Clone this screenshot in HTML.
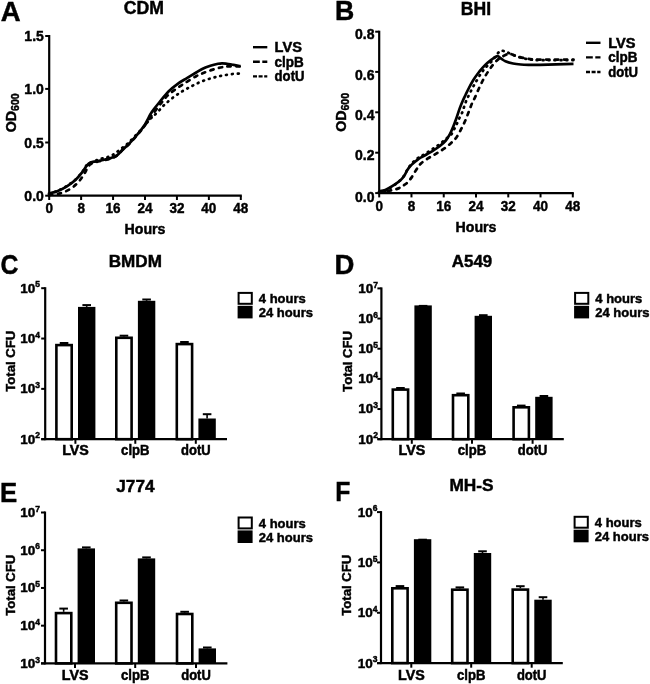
<!DOCTYPE html>
<html><head><meta charset="utf-8"><style>
html,body{margin:0;padding:0;background:#fff;}
svg{display:block;}
text{font-family:"Liberation Sans", sans-serif;font-weight:bold;fill:#000;stroke:#000;stroke-width:0.45px;}
svg{filter:blur(0.35px);}
</style></head><body>
<svg width="650" height="684" viewBox="0 0 650 684">
<rect width="650" height="684" fill="#fff"/>
<text x="0.70" y="20.60" font-size="27.5" text-anchor="start">A</text>
<text x="334.90" y="19.70" font-size="27.5" text-anchor="start" textLength="19.3" lengthAdjust="spacingAndGlyphs">B</text>
<text x="0.60" y="274.20" font-size="27.5" text-anchor="start" textLength="17.9" lengthAdjust="spacingAndGlyphs">C</text>
<text x="334.60" y="274.40" font-size="27.5" text-anchor="start">D</text>
<text x="-0.10" y="502.00" font-size="27.5" text-anchor="start" textLength="17.2" lengthAdjust="spacingAndGlyphs">E</text>
<text x="335.30" y="501.40" font-size="27.5" text-anchor="start" textLength="15.1" lengthAdjust="spacingAndGlyphs">F</text>
<line x1="49.20" y1="35.00" x2="49.20" y2="196.70" stroke="#000" stroke-width="2.2"/>
<line x1="48.20" y1="195.70" x2="241.80" y2="195.70" stroke="#000" stroke-width="2.3"/>
<line x1="45.20" y1="36.00" x2="49.20" y2="36.00" stroke="#000" stroke-width="2"/>
<text transform="translate(43.80,41.10) scale(1,1.07)" font-size="14" text-anchor="end">1.5</text>
<line x1="45.20" y1="88.90" x2="49.20" y2="88.90" stroke="#000" stroke-width="2"/>
<text transform="translate(43.80,94.00) scale(1,1.07)" font-size="14" text-anchor="end">1.0</text>
<line x1="45.20" y1="142.50" x2="49.20" y2="142.50" stroke="#000" stroke-width="2"/>
<text transform="translate(43.80,147.60) scale(1,1.07)" font-size="14" text-anchor="end">0.5</text>
<line x1="45.20" y1="195.70" x2="49.20" y2="195.70" stroke="#000" stroke-width="2"/>
<text transform="translate(43.80,200.80) scale(1,1.07)" font-size="14" text-anchor="end">0.0</text>
<line x1="49.20" y1="195.70" x2="49.20" y2="200.00" stroke="#000" stroke-width="2"/>
<text x="49.20" y="213.30" font-size="14.8" text-anchor="middle" textLength="7.51" lengthAdjust="spacingAndGlyphs">0</text>
<line x1="81.13" y1="195.70" x2="81.13" y2="200.00" stroke="#000" stroke-width="2"/>
<text x="81.13" y="213.30" font-size="14.8" text-anchor="middle" textLength="7.51" lengthAdjust="spacingAndGlyphs">8</text>
<line x1="113.07" y1="195.70" x2="113.07" y2="200.00" stroke="#000" stroke-width="2"/>
<text x="113.07" y="213.30" font-size="14.8" text-anchor="middle" textLength="15.01" lengthAdjust="spacingAndGlyphs">16</text>
<line x1="145.00" y1="195.70" x2="145.00" y2="200.00" stroke="#000" stroke-width="2"/>
<text x="145.00" y="213.30" font-size="14.8" text-anchor="middle" textLength="15.01" lengthAdjust="spacingAndGlyphs">24</text>
<line x1="176.93" y1="195.70" x2="176.93" y2="200.00" stroke="#000" stroke-width="2"/>
<text x="176.93" y="213.30" font-size="14.8" text-anchor="middle" textLength="15.01" lengthAdjust="spacingAndGlyphs">32</text>
<line x1="208.87" y1="195.70" x2="208.87" y2="200.00" stroke="#000" stroke-width="2"/>
<text x="208.87" y="213.30" font-size="14.8" text-anchor="middle" textLength="15.01" lengthAdjust="spacingAndGlyphs">40</text>
<line x1="240.80" y1="195.70" x2="240.80" y2="200.00" stroke="#000" stroke-width="2"/>
<text x="240.80" y="213.30" font-size="14.8" text-anchor="middle" textLength="15.01" lengthAdjust="spacingAndGlyphs">48</text>
<text x="143.90" y="14.30" font-size="17.8" text-anchor="middle" textLength="40.2" lengthAdjust="spacingAndGlyphs">CDM</text>
<text x="145.00" y="233.80" font-size="14.2" text-anchor="middle">Hours</text>
<text transform="translate(16.20,132.20) rotate(-90)" font-size="14.2">OD<tspan font-size="10.5" dy="3.2">600</tspan></text>
<line x1="253.00" y1="47.20" x2="267.30" y2="47.20" stroke="#000" stroke-width="2.4"/>
<text transform="translate(274.60,51.90) scale(1,1.06)" font-size="13.5" text-anchor="start" textLength="27.3" lengthAdjust="spacingAndGlyphs">LVS</text>
<line x1="253" y1="61.80" x2="267.3" y2="61.80" stroke="#000" stroke-width="2.4" stroke-dasharray="6.8 2.5"/>
<text transform="translate(274.60,66.50) scale(1,1.06)" font-size="13.5" text-anchor="start" textLength="29.2" lengthAdjust="spacingAndGlyphs">clpB</text>
<line x1="253" y1="76.40" x2="267.3" y2="76.40" stroke="#000" stroke-width="2.4" stroke-dasharray="4 1.6"/>
<text transform="translate(274.60,81.10) scale(1,1.06)" font-size="13.5" text-anchor="start" textLength="29.9" lengthAdjust="spacingAndGlyphs">dotU</text>
<path d="M49.00,193.30 C50.37,192.95 54.28,192.32 57.20,191.20 C60.12,190.08 63.42,188.52 66.50,186.60 C69.58,184.68 73.08,182.08 75.70,179.70 C78.32,177.32 80.40,174.58 82.20,172.30 C84.00,170.02 85.37,167.50 86.50,166.00 C87.63,164.50 88.08,163.97 89.00,163.30 C89.92,162.63 90.83,162.33 92.00,162.00 C93.17,161.67 94.17,161.63 96.00,161.30 C97.83,160.97 100.53,160.53 103.00,160.00 C105.47,159.47 108.47,158.88 110.80,158.10 C113.13,157.32 115.05,156.68 117.00,155.30 C118.95,153.92 120.55,151.67 122.50,149.80 C124.45,147.93 126.38,146.47 128.70,144.10 C131.02,141.73 133.83,138.65 136.40,135.60 C138.97,132.55 141.68,129.48 144.10,125.80 C146.52,122.12 149.08,116.50 150.90,113.50 C152.72,110.50 153.62,109.63 155.00,107.80 C156.38,105.97 156.95,105.22 159.20,102.50 C161.45,99.78 165.42,94.62 168.50,91.50 C171.58,88.38 174.63,86.03 177.70,83.80 C180.77,81.57 183.82,79.98 186.90,78.10 C189.98,76.22 193.57,74.07 196.20,72.50 C198.83,70.93 200.33,69.82 202.70,68.70 C205.07,67.58 207.83,66.62 210.40,65.80 C212.97,64.98 216.18,64.22 218.10,63.80 C220.02,63.38 220.62,63.33 221.90,63.30 C223.18,63.27 223.87,63.33 225.80,63.60 C227.73,63.87 231.07,64.47 233.50,64.90 C235.93,65.33 239.25,65.98 240.40,66.20" fill="none" stroke="#000" stroke-width="2.7" stroke-linecap="butt" stroke-linejoin="round"/>
<path d="M49.00,194.50 C50.83,194.32 56.47,194.32 60.00,193.40 C63.53,192.48 67.28,190.73 70.20,189.00 C73.12,187.27 75.35,185.20 77.50,183.00 C79.65,180.80 81.55,178.08 83.10,175.80 C84.65,173.52 85.65,171.18 86.80,169.30 C87.95,167.42 88.63,165.67 90.00,164.50 C91.37,163.33 92.83,162.97 95.00,162.30 C97.17,161.63 100.37,161.13 103.00,160.50 C105.63,159.87 108.47,159.33 110.80,158.50 C113.13,157.67 115.05,156.92 117.00,155.50 C118.95,154.08 120.55,151.83 122.50,150.00 C124.45,148.17 126.38,146.83 128.70,144.50 C131.02,142.17 133.83,139.00 136.40,136.00 C138.97,133.00 141.53,129.92 144.10,126.50 C146.67,123.08 148.82,119.57 151.80,115.50 C154.78,111.43 159.22,105.57 162.00,102.10 C164.78,98.63 165.88,97.08 168.50,94.70 C171.12,92.32 174.63,89.95 177.70,87.80 C180.77,85.65 183.82,83.73 186.90,81.80 C189.98,79.87 193.57,77.62 196.20,76.20 C198.83,74.78 200.33,74.27 202.70,73.30 C205.07,72.33 207.83,71.27 210.40,70.40 C212.97,69.53 215.80,68.68 218.10,68.10 C220.40,67.52 222.28,67.20 224.20,66.90 C226.12,66.60 226.90,66.37 229.60,66.30 C232.30,66.23 238.60,66.47 240.40,66.50" fill="none" stroke="#000" stroke-width="2.7" stroke-dasharray="3.3 5.5" stroke-linecap="round" stroke-linejoin="round"/>
<path d="M49.00,193.50 C50.37,193.08 54.28,192.22 57.20,191.00 C60.12,189.78 63.42,188.15 66.50,186.20 C69.58,184.25 73.08,181.67 75.70,179.30 C78.32,176.93 80.35,174.38 82.20,172.00 C84.05,169.62 85.27,166.62 86.80,165.00 C88.33,163.38 89.20,163.30 91.40,162.30 C93.60,161.30 97.42,159.83 100.00,159.00 C102.58,158.17 104.85,157.93 106.90,157.30 C108.95,156.67 110.75,156.00 112.30,155.20 C113.85,154.40 114.78,153.53 116.20,152.50 C117.62,151.47 119.27,150.17 120.80,149.00 C122.33,147.83 123.87,146.78 125.40,145.50 C126.93,144.22 128.07,143.22 130.00,141.30 C131.93,139.38 134.65,136.47 137.00,134.00 C139.35,131.53 142.07,128.83 144.10,126.50 C146.13,124.17 147.70,121.70 149.20,120.00 C150.70,118.30 151.68,117.63 153.10,116.30 C154.52,114.97 155.90,113.83 157.70,112.00 C159.50,110.17 161.33,107.72 163.90,105.30 C166.47,102.88 170.03,99.83 173.10,97.50 C176.17,95.17 179.22,93.18 182.30,91.30 C185.38,89.42 188.52,87.78 191.60,86.20 C194.68,84.62 197.67,83.08 200.80,81.80 C203.93,80.52 207.52,79.38 210.40,78.50 C213.28,77.62 215.53,77.08 218.10,76.50 C220.67,75.92 223.23,75.43 225.80,75.00 C228.37,74.57 231.22,74.13 233.50,73.90 C235.78,73.67 238.50,73.65 239.50,73.60" fill="none" stroke="#000" stroke-width="2.7" stroke-dasharray="0.9 5.0" stroke-linecap="round" stroke-linejoin="round"/>
<line x1="379.20" y1="30.70" x2="379.20" y2="194.10" stroke="#000" stroke-width="2.2"/>
<line x1="378.20" y1="193.10" x2="573.80" y2="193.10" stroke="#000" stroke-width="2.3"/>
<line x1="375.20" y1="31.70" x2="379.20" y2="31.70" stroke="#000" stroke-width="2"/>
<text transform="translate(374.50,39.40) scale(1,1.07)" font-size="14" text-anchor="end">0.8</text>
<line x1="375.20" y1="71.90" x2="379.20" y2="71.90" stroke="#000" stroke-width="2"/>
<text transform="translate(374.50,80.40) scale(1,1.07)" font-size="14" text-anchor="end">0.6</text>
<line x1="375.20" y1="112.30" x2="379.20" y2="112.30" stroke="#000" stroke-width="2"/>
<text transform="translate(374.50,120.00) scale(1,1.07)" font-size="14" text-anchor="end">0.4</text>
<line x1="375.20" y1="152.70" x2="379.20" y2="152.70" stroke="#000" stroke-width="2"/>
<text transform="translate(374.50,160.40) scale(1,1.07)" font-size="14" text-anchor="end">0.2</text>
<line x1="375.20" y1="193.10" x2="379.20" y2="193.10" stroke="#000" stroke-width="2"/>
<text transform="translate(374.50,202.00) scale(1,1.07)" font-size="14" text-anchor="end">0.0</text>
<line x1="379.20" y1="193.10" x2="379.20" y2="197.40" stroke="#000" stroke-width="2"/>
<text x="379.20" y="211.20" font-size="14.8" text-anchor="middle" textLength="7.51" lengthAdjust="spacingAndGlyphs">0</text>
<line x1="411.47" y1="193.10" x2="411.47" y2="197.40" stroke="#000" stroke-width="2"/>
<text x="411.47" y="211.20" font-size="14.8" text-anchor="middle" textLength="7.51" lengthAdjust="spacingAndGlyphs">8</text>
<line x1="443.73" y1="193.10" x2="443.73" y2="197.40" stroke="#000" stroke-width="2"/>
<text x="443.73" y="211.20" font-size="14.8" text-anchor="middle" textLength="15.01" lengthAdjust="spacingAndGlyphs">16</text>
<line x1="476.00" y1="193.10" x2="476.00" y2="197.40" stroke="#000" stroke-width="2"/>
<text x="476.00" y="211.20" font-size="14.8" text-anchor="middle" textLength="15.01" lengthAdjust="spacingAndGlyphs">24</text>
<line x1="508.27" y1="193.10" x2="508.27" y2="197.40" stroke="#000" stroke-width="2"/>
<text x="508.27" y="211.20" font-size="14.8" text-anchor="middle" textLength="15.01" lengthAdjust="spacingAndGlyphs">32</text>
<line x1="540.53" y1="193.10" x2="540.53" y2="197.40" stroke="#000" stroke-width="2"/>
<text x="540.53" y="211.20" font-size="14.8" text-anchor="middle" textLength="15.01" lengthAdjust="spacingAndGlyphs">40</text>
<line x1="572.80" y1="193.10" x2="572.80" y2="197.40" stroke="#000" stroke-width="2"/>
<text x="572.80" y="211.20" font-size="14.8" text-anchor="middle" textLength="15.01" lengthAdjust="spacingAndGlyphs">48</text>
<text x="476.00" y="14.60" font-size="17.8" text-anchor="middle" textLength="30.3" lengthAdjust="spacingAndGlyphs">BHI</text>
<text x="476.00" y="231.60" font-size="14.2" text-anchor="middle">Hours</text>
<text transform="translate(345.90,131.80) rotate(-90)" font-size="14.2">OD<tspan font-size="10.5" dy="3.2">600</tspan></text>
<line x1="586.00" y1="42.80" x2="600.50" y2="42.80" stroke="#000" stroke-width="2.4"/>
<text transform="translate(608.20,47.50) scale(1,1.06)" font-size="13.5" text-anchor="start" textLength="27.3" lengthAdjust="spacingAndGlyphs">LVS</text>
<line x1="586" y1="57.40" x2="600.5" y2="57.40" stroke="#000" stroke-width="2.4" stroke-dasharray="6.8 2.5"/>
<text transform="translate(608.20,62.10) scale(1,1.06)" font-size="13.5" text-anchor="start" textLength="29.2" lengthAdjust="spacingAndGlyphs">clpB</text>
<line x1="586" y1="72.00" x2="600.5" y2="72.00" stroke="#000" stroke-width="2.4" stroke-dasharray="4 1.6"/>
<text transform="translate(608.20,76.70) scale(1,1.06)" font-size="13.5" text-anchor="start" textLength="29.9" lengthAdjust="spacingAndGlyphs">dotU</text>
<path d="M379.00,191.30 C380.05,191.07 383.03,190.80 385.30,189.90 C387.57,189.00 390.17,187.42 392.60,185.90 C395.03,184.38 397.95,182.50 399.90,180.80 C401.85,179.10 403.08,177.47 404.30,175.70 C405.52,173.93 406.23,171.77 407.20,170.20 C408.17,168.63 408.88,167.62 410.10,166.30 C411.32,164.98 413.03,163.58 414.50,162.30 C415.97,161.02 417.78,159.42 418.90,158.60 C420.02,157.78 419.80,158.17 421.20,157.40 C422.60,156.63 425.25,155.17 427.30,154.00 C429.35,152.83 431.45,151.70 433.50,150.40 C435.55,149.10 437.55,147.85 439.60,146.20 C441.65,144.55 444.08,142.50 445.80,140.50 C447.52,138.50 448.67,136.48 449.90,134.20 C451.13,131.92 452.12,129.47 453.20,126.80 C454.28,124.13 455.32,121.27 456.40,118.20 C457.48,115.13 458.60,111.38 459.70,108.40 C460.80,105.42 462.03,102.53 463.00,100.30 C463.97,98.07 464.52,97.05 465.50,95.00 C466.48,92.95 467.57,90.55 468.90,88.00 C470.23,85.45 471.97,82.17 473.50,79.70 C475.03,77.23 476.57,75.20 478.10,73.20 C479.63,71.20 481.17,69.38 482.70,67.70 C484.23,66.02 485.77,64.48 487.30,63.10 C488.83,61.72 490.53,60.43 491.90,59.40 C493.27,58.37 494.48,57.42 495.50,56.90 C496.52,56.38 497.00,55.98 498.00,56.30 C499.00,56.62 500.27,57.98 501.50,58.80 C502.73,59.62 503.47,60.42 505.40,61.20 C507.33,61.98 510.53,62.95 513.10,63.50 C515.67,64.05 518.23,64.28 520.80,64.50 C523.37,64.72 525.30,64.75 528.50,64.80 C531.70,64.85 532.50,64.97 540.00,64.80 C547.50,64.63 567.92,63.97 573.50,63.80" fill="none" stroke="#000" stroke-width="2.7" stroke-linecap="butt" stroke-linejoin="round"/>
<path d="M379.00,192.50 C380.42,192.25 384.87,191.48 387.50,191.00 C390.13,190.52 392.73,190.15 394.80,189.60 C396.87,189.05 398.45,188.38 399.90,187.70 C401.35,187.02 402.28,186.32 403.50,185.50 C404.72,184.68 405.97,183.98 407.20,182.80 C408.43,181.62 409.68,180.10 410.90,178.40 C412.12,176.70 413.28,174.52 414.50,172.60 C415.72,170.68 417.03,168.50 418.20,166.90 C419.37,165.30 419.95,164.37 421.50,163.00 C423.05,161.63 425.50,160.00 427.50,158.70 C429.50,157.40 431.48,156.40 433.50,155.20 C435.52,154.00 437.55,152.78 439.60,151.50 C441.65,150.22 443.75,149.05 445.80,147.50 C447.85,145.95 450.13,143.87 451.90,142.20 C453.67,140.53 454.87,139.67 456.40,137.50 C457.93,135.33 459.67,131.90 461.10,129.20 C462.53,126.50 463.70,124.27 465.00,121.30 C466.30,118.33 467.70,114.47 468.90,111.40 C470.10,108.33 471.20,105.20 472.20,102.90 C473.20,100.60 473.77,100.03 474.90,97.60 C476.03,95.17 477.55,91.40 479.00,88.30 C480.45,85.20 482.07,81.82 483.60,79.00 C485.13,76.18 486.65,73.75 488.20,71.40 C489.75,69.05 491.45,66.72 492.90,64.90 C494.35,63.08 495.72,61.65 496.90,60.50 C498.08,59.35 498.85,58.78 500.00,58.00 C501.15,57.22 502.63,56.42 503.80,55.80 C504.97,55.18 505.97,54.63 507.00,54.30 C508.03,53.97 508.35,53.48 510.00,53.80 C511.65,54.12 514.47,55.47 516.90,56.20 C519.33,56.93 522.03,57.68 524.60,58.20 C527.17,58.72 529.73,59.07 532.30,59.30 C534.87,59.53 533.13,59.55 540.00,59.60 C546.87,59.65 567.92,59.60 573.50,59.60" fill="none" stroke="#000" stroke-width="2.7" stroke-dasharray="3.3 5.5" stroke-linecap="round" stroke-linejoin="round"/>
<path d="M379.00,192.00 C380.17,191.75 383.60,191.53 386.00,190.50 C388.40,189.47 391.07,187.47 393.40,185.80 C395.73,184.13 398.18,182.25 400.00,180.50 C401.82,178.75 403.05,177.13 404.30,175.30 C405.55,173.47 406.47,171.22 407.50,169.50 C408.53,167.78 409.42,166.37 410.50,165.00 C411.58,163.63 412.75,162.47 414.00,161.30 C415.25,160.13 416.80,158.85 418.00,158.00 C419.20,157.15 419.65,157.13 421.20,156.20 C422.75,155.27 425.25,153.70 427.30,152.40 C429.35,151.10 431.45,149.77 433.50,148.40 C435.55,147.03 437.55,145.77 439.60,144.20 C441.65,142.63 443.87,140.62 445.80,139.00 C447.73,137.38 449.75,136.23 451.20,134.50 C452.65,132.77 453.52,130.47 454.50,128.60 C455.48,126.73 456.23,125.17 457.10,123.30 C457.97,121.43 458.82,119.27 459.70,117.40 C460.58,115.53 461.70,113.75 462.40,112.10 C463.10,110.45 463.35,109.15 463.90,107.50 C464.45,105.85 465.02,103.95 465.70,102.20 C466.38,100.45 466.87,99.37 468.00,97.00 C469.13,94.63 470.97,90.88 472.50,88.00 C474.03,85.12 475.65,82.32 477.20,79.70 C478.75,77.08 480.27,74.45 481.80,72.30 C483.33,70.15 484.72,68.68 486.40,66.80 C488.08,64.92 490.20,62.97 491.90,61.00 C493.60,59.03 495.45,56.47 496.60,55.00 C497.75,53.53 498.03,52.93 498.80,52.20 C499.57,51.47 500.10,50.70 501.20,50.60 C502.30,50.50 503.93,51.12 505.40,51.60 C506.87,52.08 508.08,52.70 510.00,53.50 C511.92,54.30 514.47,55.55 516.90,56.40 C519.33,57.25 522.03,58.03 524.60,58.60 C527.17,59.17 529.73,59.53 532.30,59.80 C534.87,60.07 533.13,60.13 540.00,60.20 C546.87,60.27 567.92,60.20 573.50,60.20" fill="none" stroke="#000" stroke-width="2.7" stroke-dasharray="0.9 5.0" stroke-linecap="round" stroke-linejoin="round"/>
<line x1="64.05" y1="343.80" x2="64.05" y2="343.00" stroke="#000" stroke-width="1.6"/>
<line x1="59.75" y1="343.00" x2="68.35" y2="343.00" stroke="#000" stroke-width="2"/>
<line x1="86.70" y1="306.90" x2="86.70" y2="305.10" stroke="#000" stroke-width="1.6"/>
<line x1="82.40" y1="305.10" x2="91.00" y2="305.10" stroke="#000" stroke-width="2"/>
<rect x="56.40" y="345.10" width="15.30" height="94.10" fill="#fff" stroke="#000" stroke-width="2.6"/>
<rect x="78.00" y="306.90" width="17.40" height="132.30" fill="#000"/>
<line x1="75.40" y1="439.20" x2="75.40" y2="443.80" stroke="#000" stroke-width="2"/>
<line x1="123.95" y1="336.50" x2="123.95" y2="335.70" stroke="#000" stroke-width="1.6"/>
<line x1="119.65" y1="335.70" x2="128.25" y2="335.70" stroke="#000" stroke-width="2"/>
<line x1="146.60" y1="300.80" x2="146.60" y2="299.50" stroke="#000" stroke-width="1.6"/>
<line x1="142.30" y1="299.50" x2="150.90" y2="299.50" stroke="#000" stroke-width="2"/>
<rect x="116.30" y="337.80" width="15.30" height="101.40" fill="#fff" stroke="#000" stroke-width="2.6"/>
<rect x="137.90" y="300.80" width="17.40" height="138.40" fill="#000"/>
<line x1="135.30" y1="439.20" x2="135.30" y2="443.80" stroke="#000" stroke-width="2"/>
<line x1="184.45" y1="342.80" x2="184.45" y2="342.00" stroke="#000" stroke-width="1.6"/>
<line x1="180.15" y1="342.00" x2="188.75" y2="342.00" stroke="#000" stroke-width="2"/>
<line x1="207.10" y1="418.50" x2="207.10" y2="414.20" stroke="#000" stroke-width="1.6"/>
<line x1="202.80" y1="414.20" x2="211.40" y2="414.20" stroke="#000" stroke-width="2"/>
<rect x="176.80" y="344.10" width="15.30" height="95.10" fill="#fff" stroke="#000" stroke-width="2.6"/>
<rect x="198.40" y="418.50" width="17.40" height="20.70" fill="#000"/>
<line x1="195.80" y1="439.20" x2="195.80" y2="443.80" stroke="#000" stroke-width="2"/>
<line x1="45.20" y1="287.20" x2="45.20" y2="440.20" stroke="#000" stroke-width="2.2"/>
<line x1="41.20" y1="439.20" x2="227.00" y2="439.20" stroke="#000" stroke-width="2.3"/>
<line x1="41.20" y1="288.20" x2="45.20" y2="288.20" stroke="#000" stroke-width="2"/>
<text x="40.10" y="292.60" font-size="13.5" text-anchor="end">10<tspan font-size="8.5" dy="-5.2">5</tspan></text>
<line x1="41.20" y1="338.53" x2="45.20" y2="338.53" stroke="#000" stroke-width="2"/>
<text x="40.10" y="342.93" font-size="13.5" text-anchor="end">10<tspan font-size="8.5" dy="-5.2">4</tspan></text>
<line x1="41.20" y1="388.87" x2="45.20" y2="388.87" stroke="#000" stroke-width="2"/>
<text x="40.10" y="393.27" font-size="13.5" text-anchor="end">10<tspan font-size="8.5" dy="-5.2">3</tspan></text>
<line x1="41.20" y1="439.20" x2="45.20" y2="439.20" stroke="#000" stroke-width="2"/>
<text x="40.10" y="443.60" font-size="13.5" text-anchor="end">10<tspan font-size="8.5" dy="-5.2">2</tspan></text>
<text x="135.30" y="266.80" font-size="16.5" text-anchor="middle" textLength="53.2" lengthAdjust="spacingAndGlyphs">BMDM</text>
<text transform="translate(15.20,391.70) rotate(-90)" font-size="13" textLength="61" lengthAdjust="spacingAndGlyphs">Total CFU</text>
<rect x="238.60" y="292.90" width="13.2" height="10.9" fill="#fff" stroke="#000" stroke-width="2"/>
<rect x="237.60" y="305.80" width="15" height="12.6" fill="#000"/>
<text x="258.80" y="303.10" font-size="13" text-anchor="start">4 hours</text>
<text x="258.80" y="317.00" font-size="13" text-anchor="start">24 hours</text>
<text transform="translate(75.50,455.20) scale(1,1.07)" font-size="13" text-anchor="middle" textLength="26.7" lengthAdjust="spacingAndGlyphs">LVS</text>
<text transform="translate(135.30,455.20) scale(1,1.07)" font-size="13" text-anchor="middle" textLength="28.4" lengthAdjust="spacingAndGlyphs">clpB</text>
<text transform="translate(195.80,455.20) scale(1,1.07)" font-size="13" text-anchor="middle" textLength="29.6" lengthAdjust="spacingAndGlyphs">dotU</text>
<line x1="400.45" y1="388.30" x2="400.45" y2="388.00" stroke="#000" stroke-width="1.6"/>
<line x1="396.15" y1="388.00" x2="404.75" y2="388.00" stroke="#000" stroke-width="2"/>
<line x1="423.10" y1="305.40" x2="423.10" y2="305.90" stroke="#000" stroke-width="1.6"/>
<line x1="418.80" y1="305.90" x2="427.40" y2="305.90" stroke="#000" stroke-width="2"/>
<rect x="392.80" y="389.60" width="15.30" height="49.60" fill="#fff" stroke="#000" stroke-width="2.6"/>
<rect x="414.40" y="305.40" width="17.40" height="133.80" fill="#000"/>
<line x1="411.80" y1="439.20" x2="411.80" y2="443.80" stroke="#000" stroke-width="2"/>
<line x1="460.65" y1="393.90" x2="460.65" y2="393.50" stroke="#000" stroke-width="1.6"/>
<line x1="456.35" y1="393.50" x2="464.95" y2="393.50" stroke="#000" stroke-width="2"/>
<line x1="483.30" y1="315.80" x2="483.30" y2="315.20" stroke="#000" stroke-width="1.6"/>
<line x1="479.00" y1="315.20" x2="487.60" y2="315.20" stroke="#000" stroke-width="2"/>
<rect x="453.00" y="395.20" width="15.30" height="44.00" fill="#fff" stroke="#000" stroke-width="2.6"/>
<rect x="474.60" y="315.80" width="17.40" height="123.40" fill="#000"/>
<line x1="472.00" y1="439.20" x2="472.00" y2="443.80" stroke="#000" stroke-width="2"/>
<line x1="521.25" y1="406.00" x2="521.25" y2="405.60" stroke="#000" stroke-width="1.6"/>
<line x1="516.95" y1="405.60" x2="525.55" y2="405.60" stroke="#000" stroke-width="2"/>
<line x1="543.90" y1="396.80" x2="543.90" y2="396.00" stroke="#000" stroke-width="1.6"/>
<line x1="539.60" y1="396.00" x2="548.20" y2="396.00" stroke="#000" stroke-width="2"/>
<rect x="513.60" y="407.30" width="15.30" height="31.90" fill="#fff" stroke="#000" stroke-width="2.6"/>
<rect x="535.20" y="396.80" width="17.40" height="42.40" fill="#000"/>
<line x1="532.60" y1="439.20" x2="532.60" y2="443.80" stroke="#000" stroke-width="2"/>
<line x1="381.40" y1="287.40" x2="381.40" y2="440.20" stroke="#000" stroke-width="2.2"/>
<line x1="377.40" y1="439.20" x2="563.80" y2="439.20" stroke="#000" stroke-width="2.3"/>
<line x1="377.40" y1="288.40" x2="381.40" y2="288.40" stroke="#000" stroke-width="2"/>
<text x="377.90" y="292.80" font-size="13.5" text-anchor="end">10<tspan font-size="8.5" dy="-5.2">7</tspan></text>
<line x1="377.40" y1="318.56" x2="381.40" y2="318.56" stroke="#000" stroke-width="2"/>
<text x="377.90" y="322.96" font-size="13.5" text-anchor="end">10<tspan font-size="8.5" dy="-5.2">6</tspan></text>
<line x1="377.40" y1="348.72" x2="381.40" y2="348.72" stroke="#000" stroke-width="2"/>
<text x="377.90" y="353.12" font-size="13.5" text-anchor="end">10<tspan font-size="8.5" dy="-5.2">5</tspan></text>
<line x1="377.40" y1="378.88" x2="381.40" y2="378.88" stroke="#000" stroke-width="2"/>
<text x="377.90" y="383.28" font-size="13.5" text-anchor="end">10<tspan font-size="8.5" dy="-5.2">4</tspan></text>
<line x1="377.40" y1="409.04" x2="381.40" y2="409.04" stroke="#000" stroke-width="2"/>
<text x="377.90" y="413.44" font-size="13.5" text-anchor="end">10<tspan font-size="8.5" dy="-5.2">3</tspan></text>
<line x1="377.40" y1="439.20" x2="381.40" y2="439.20" stroke="#000" stroke-width="2"/>
<text x="377.90" y="443.60" font-size="13.5" text-anchor="end">10<tspan font-size="8.5" dy="-5.2">2</tspan></text>
<text x="472.00" y="267.00" font-size="16.5" text-anchor="middle" textLength="40.3" lengthAdjust="spacingAndGlyphs">A549</text>
<text transform="translate(351.70,391.90) rotate(-90)" font-size="13" textLength="61" lengthAdjust="spacingAndGlyphs">Total CFU</text>
<rect x="575.10" y="292.90" width="13.2" height="10.9" fill="#fff" stroke="#000" stroke-width="2"/>
<rect x="574.10" y="305.80" width="15" height="12.6" fill="#000"/>
<text x="595.30" y="303.10" font-size="13" text-anchor="start">4 hours</text>
<text x="595.30" y="317.00" font-size="13" text-anchor="start">24 hours</text>
<text transform="translate(411.90,455.40) scale(1,1.07)" font-size="13" text-anchor="middle" textLength="26.7" lengthAdjust="spacingAndGlyphs">LVS</text>
<text transform="translate(472.00,455.40) scale(1,1.07)" font-size="13" text-anchor="middle" textLength="28.4" lengthAdjust="spacingAndGlyphs">clpB</text>
<text transform="translate(532.60,455.40) scale(1,1.07)" font-size="13" text-anchor="middle" textLength="29.6" lengthAdjust="spacingAndGlyphs">dotU</text>
<line x1="63.65" y1="611.80" x2="63.65" y2="608.60" stroke="#000" stroke-width="1.6"/>
<line x1="59.35" y1="608.60" x2="67.95" y2="608.60" stroke="#000" stroke-width="2"/>
<line x1="86.30" y1="548.40" x2="86.30" y2="547.40" stroke="#000" stroke-width="1.6"/>
<line x1="82.00" y1="547.40" x2="90.60" y2="547.40" stroke="#000" stroke-width="2"/>
<rect x="56.00" y="613.10" width="15.30" height="50.30" fill="#fff" stroke="#000" stroke-width="2.6"/>
<rect x="77.60" y="548.40" width="17.40" height="115.00" fill="#000"/>
<line x1="75.00" y1="663.40" x2="75.00" y2="668.00" stroke="#000" stroke-width="2"/>
<line x1="123.85" y1="601.50" x2="123.85" y2="600.50" stroke="#000" stroke-width="1.6"/>
<line x1="119.55" y1="600.50" x2="128.15" y2="600.50" stroke="#000" stroke-width="2"/>
<line x1="146.50" y1="558.40" x2="146.50" y2="557.40" stroke="#000" stroke-width="1.6"/>
<line x1="142.20" y1="557.40" x2="150.80" y2="557.40" stroke="#000" stroke-width="2"/>
<rect x="116.20" y="602.80" width="15.30" height="60.60" fill="#fff" stroke="#000" stroke-width="2.6"/>
<rect x="137.80" y="558.40" width="17.40" height="105.00" fill="#000"/>
<line x1="135.20" y1="663.40" x2="135.20" y2="668.00" stroke="#000" stroke-width="2"/>
<line x1="184.65" y1="612.70" x2="184.65" y2="611.80" stroke="#000" stroke-width="1.6"/>
<line x1="180.35" y1="611.80" x2="188.95" y2="611.80" stroke="#000" stroke-width="2"/>
<line x1="207.30" y1="648.40" x2="207.30" y2="647.50" stroke="#000" stroke-width="1.6"/>
<line x1="203.00" y1="647.50" x2="211.60" y2="647.50" stroke="#000" stroke-width="2"/>
<rect x="177.00" y="614.00" width="15.30" height="49.40" fill="#fff" stroke="#000" stroke-width="2.6"/>
<rect x="198.60" y="648.40" width="17.40" height="15.00" fill="#000"/>
<line x1="196.00" y1="663.40" x2="196.00" y2="668.00" stroke="#000" stroke-width="2"/>
<line x1="45.00" y1="511.50" x2="45.00" y2="664.40" stroke="#000" stroke-width="2.2"/>
<line x1="41.00" y1="663.40" x2="227.40" y2="663.40" stroke="#000" stroke-width="2.3"/>
<line x1="41.00" y1="512.50" x2="45.00" y2="512.50" stroke="#000" stroke-width="2"/>
<text x="40.10" y="516.90" font-size="13.5" text-anchor="end">10<tspan font-size="8.5" dy="-5.2">7</tspan></text>
<line x1="41.00" y1="550.23" x2="45.00" y2="550.23" stroke="#000" stroke-width="2"/>
<text x="40.10" y="554.62" font-size="13.5" text-anchor="end">10<tspan font-size="8.5" dy="-5.2">6</tspan></text>
<line x1="41.00" y1="587.95" x2="45.00" y2="587.95" stroke="#000" stroke-width="2"/>
<text x="40.10" y="592.35" font-size="13.5" text-anchor="end">10<tspan font-size="8.5" dy="-5.2">5</tspan></text>
<line x1="41.00" y1="625.67" x2="45.00" y2="625.67" stroke="#000" stroke-width="2"/>
<text x="40.10" y="630.07" font-size="13.5" text-anchor="end">10<tspan font-size="8.5" dy="-5.2">4</tspan></text>
<line x1="41.00" y1="663.40" x2="45.00" y2="663.40" stroke="#000" stroke-width="2"/>
<text x="40.10" y="667.80" font-size="13.5" text-anchor="end">10<tspan font-size="8.5" dy="-5.2">3</tspan></text>
<text x="135.40" y="491.70" font-size="16.5" text-anchor="middle" textLength="38.2" lengthAdjust="spacingAndGlyphs">J774</text>
<text transform="translate(14.90,615.80) rotate(-90)" font-size="13" textLength="61" lengthAdjust="spacingAndGlyphs">Total CFU</text>
<rect x="238.60" y="517.50" width="13.2" height="10.9" fill="#fff" stroke="#000" stroke-width="2"/>
<rect x="237.60" y="530.40" width="15" height="12.6" fill="#000"/>
<text x="258.80" y="527.70" font-size="13" text-anchor="start">4 hours</text>
<text x="258.80" y="541.60" font-size="13" text-anchor="start">24 hours</text>
<text transform="translate(75.10,680.40) scale(1,1.07)" font-size="13" text-anchor="middle" textLength="26.7" lengthAdjust="spacingAndGlyphs">LVS</text>
<text transform="translate(135.20,680.40) scale(1,1.07)" font-size="13" text-anchor="middle" textLength="28.4" lengthAdjust="spacingAndGlyphs">clpB</text>
<text transform="translate(196.00,680.40) scale(1,1.07)" font-size="13" text-anchor="middle" textLength="29.6" lengthAdjust="spacingAndGlyphs">dotU</text>
<line x1="399.95" y1="587.00" x2="399.95" y2="586.10" stroke="#000" stroke-width="1.6"/>
<line x1="395.65" y1="586.10" x2="404.25" y2="586.10" stroke="#000" stroke-width="2"/>
<line x1="422.60" y1="539.20" x2="422.60" y2="539.70" stroke="#000" stroke-width="1.6"/>
<line x1="418.30" y1="539.70" x2="426.90" y2="539.70" stroke="#000" stroke-width="2"/>
<rect x="392.30" y="588.30" width="15.30" height="74.80" fill="#fff" stroke="#000" stroke-width="2.6"/>
<rect x="413.90" y="539.20" width="17.40" height="123.90" fill="#000"/>
<line x1="411.30" y1="663.10" x2="411.30" y2="667.70" stroke="#000" stroke-width="2"/>
<line x1="459.85" y1="588.40" x2="459.85" y2="587.40" stroke="#000" stroke-width="1.6"/>
<line x1="455.55" y1="587.40" x2="464.15" y2="587.40" stroke="#000" stroke-width="2"/>
<line x1="482.50" y1="553.00" x2="482.50" y2="551.30" stroke="#000" stroke-width="1.6"/>
<line x1="478.20" y1="551.30" x2="486.80" y2="551.30" stroke="#000" stroke-width="2"/>
<rect x="452.20" y="589.70" width="15.30" height="73.40" fill="#fff" stroke="#000" stroke-width="2.6"/>
<rect x="473.80" y="553.00" width="17.40" height="110.10" fill="#000"/>
<line x1="471.20" y1="663.10" x2="471.20" y2="667.70" stroke="#000" stroke-width="2"/>
<line x1="520.35" y1="588.30" x2="520.35" y2="586.20" stroke="#000" stroke-width="1.6"/>
<line x1="516.05" y1="586.20" x2="524.65" y2="586.20" stroke="#000" stroke-width="2"/>
<line x1="543.00" y1="599.70" x2="543.00" y2="597.20" stroke="#000" stroke-width="1.6"/>
<line x1="538.70" y1="597.20" x2="547.30" y2="597.20" stroke="#000" stroke-width="2"/>
<rect x="512.70" y="589.60" width="15.30" height="73.50" fill="#fff" stroke="#000" stroke-width="2.6"/>
<rect x="534.30" y="599.70" width="17.40" height="63.40" fill="#000"/>
<line x1="531.70" y1="663.10" x2="531.70" y2="667.70" stroke="#000" stroke-width="2"/>
<line x1="381.00" y1="511.10" x2="381.00" y2="664.10" stroke="#000" stroke-width="2.2"/>
<line x1="377.00" y1="663.10" x2="562.80" y2="663.10" stroke="#000" stroke-width="2.3"/>
<line x1="377.00" y1="512.10" x2="381.00" y2="512.10" stroke="#000" stroke-width="2"/>
<text x="377.60" y="516.50" font-size="13.5" text-anchor="end">10<tspan font-size="8.5" dy="-5.2">6</tspan></text>
<line x1="377.00" y1="562.43" x2="381.00" y2="562.43" stroke="#000" stroke-width="2"/>
<text x="377.60" y="566.83" font-size="13.5" text-anchor="end">10<tspan font-size="8.5" dy="-5.2">5</tspan></text>
<line x1="377.00" y1="612.77" x2="381.00" y2="612.77" stroke="#000" stroke-width="2"/>
<text x="377.60" y="617.17" font-size="13.5" text-anchor="end">10<tspan font-size="8.5" dy="-5.2">4</tspan></text>
<line x1="377.00" y1="663.10" x2="381.00" y2="663.10" stroke="#000" stroke-width="2"/>
<text x="377.60" y="667.50" font-size="13.5" text-anchor="end">10<tspan font-size="8.5" dy="-5.2">3</tspan></text>
<text x="471.50" y="491.30" font-size="16.5" text-anchor="middle" textLength="44.2" lengthAdjust="spacingAndGlyphs">MH-S</text>
<text transform="translate(351.20,615.70) rotate(-90)" font-size="13" textLength="61" lengthAdjust="spacingAndGlyphs">Total CFU</text>
<rect x="574.60" y="516.80" width="13.2" height="10.9" fill="#fff" stroke="#000" stroke-width="2"/>
<rect x="573.60" y="529.70" width="15" height="12.6" fill="#000"/>
<text x="594.80" y="527.00" font-size="13" text-anchor="start">4 hours</text>
<text x="594.80" y="540.90" font-size="13" text-anchor="start">24 hours</text>
<text transform="translate(411.40,679.80) scale(1,1.07)" font-size="13" text-anchor="middle" textLength="26.7" lengthAdjust="spacingAndGlyphs">LVS</text>
<text transform="translate(471.20,679.80) scale(1,1.07)" font-size="13" text-anchor="middle" textLength="28.4" lengthAdjust="spacingAndGlyphs">clpB</text>
<text transform="translate(531.70,679.80) scale(1,1.07)" font-size="13" text-anchor="middle" textLength="29.6" lengthAdjust="spacingAndGlyphs">dotU</text>
</svg>
</body></html>
